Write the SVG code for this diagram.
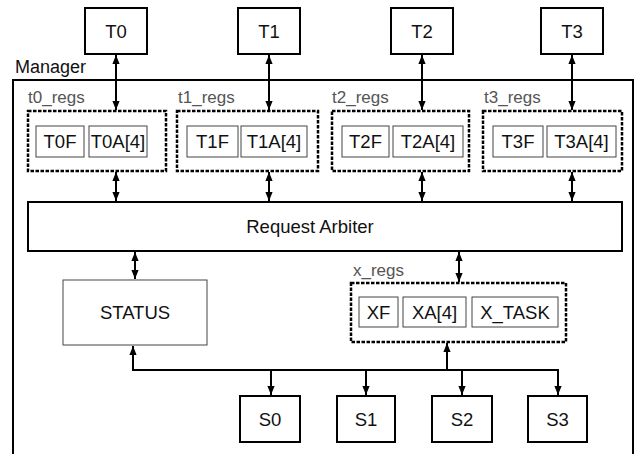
<svg xmlns="http://www.w3.org/2000/svg" width="639" height="454" viewBox="0 0 639 454">
  <style>
    text { font-family: "Liberation Sans", Arial, sans-serif; fill: #111; }
    .lbl { font-size: 18.5px; text-anchor: middle; }
    .grp { font-size: 17px; fill: #555; }
    .thick { fill: #fff; stroke: #000; stroke-width: 2; }
    .thin { fill: #fff; stroke: #444; stroke-width: 1; }
    .regs { fill: #fff; stroke: #000; stroke-width: 2.5; stroke-dasharray: 3.5 1.5; }
    .wire { fill: none; stroke: #000; stroke-width: 2; }
  </style>
  <defs>
    <marker id="ah" viewBox="0 0 10 8" refX="10" refY="4" markerWidth="4.5" markerHeight="3.6" orient="auto-start-reverse">
      <path d="M0,0 L10,4 L0,8 z" fill="#000"/>
    </marker>
  </defs>

  <g id="manager">
    <rect class="thick" x="13" y="80" width="620" height="400"/>
    <text x="15" y="73" style="font-size:18px">Manager</text>
  </g>

  <g id="T0"><rect class="thick" x="85" y="8" width="62" height="46"/><text class="lbl" x="116" y="38">T0</text></g>
  <g id="T1"><rect class="thick" x="238" y="8" width="62" height="46"/><text class="lbl" x="269" y="38">T1</text></g>
  <g id="T2"><rect class="thick" x="391" y="8" width="62" height="46"/><text class="lbl" x="422" y="38">T2</text></g>
  <g id="T3"><rect class="thick" x="541" y="8" width="62" height="46"/><text class="lbl" x="572" y="38">T3</text></g>

  <g id="t0_regs">
    <text class="grp" x="28" y="103">t0_regs</text>
    <rect class="regs" x="28" y="111" width="138" height="60"/>
    <rect class="thin" x="36" y="126" width="48" height="31"/><text class="lbl" x="60" y="148">T0F</text>
    <rect class="thin" x="89" y="126" width="58" height="31"/><text class="lbl" x="118" y="148">T0A[4]</text>
  </g>
  <g id="t1_regs">
    <text class="grp" x="178" y="103">t1_regs</text>
    <rect class="regs" x="177" y="111" width="141" height="60"/>
    <rect class="thin" x="187" y="126" width="51" height="31"/><text class="lbl" x="212.5" y="148">T1F</text>
    <rect class="thin" x="241" y="126" width="66" height="31"/><text class="lbl" x="274" y="148">T1A[4]</text>
  </g>
  <g id="t2_regs">
    <text class="grp" x="332" y="103">t2_regs</text>
    <rect class="regs" x="332" y="111" width="137" height="60"/>
    <rect class="thin" x="342" y="126" width="47" height="31"/><text class="lbl" x="365.5" y="148">T2F</text>
    <rect class="thin" x="393" y="126" width="70" height="31"/><text class="lbl" x="428" y="148">T2A[4]</text>
  </g>
  <g id="t3_regs">
    <text class="grp" x="484" y="103">t3_regs</text>
    <rect class="regs" x="483" y="111" width="139" height="60"/>
    <rect class="thin" x="493" y="126" width="50" height="31"/><text class="lbl" x="518" y="148">T3F</text>
    <rect class="thin" x="547" y="126" width="69" height="31"/><text class="lbl" x="581.5" y="148">T3A[4]</text>
  </g>

  <g id="arbiter">
    <rect class="thick" x="28" y="202" width="594" height="49"/>
    <text class="lbl" x="310" y="233">Request Arbiter</text>
  </g>

  <g id="status">
    <rect class="thin" x="63" y="280" width="144" height="65"/>
    <text class="lbl" x="135" y="319">STATUS</text>
  </g>

  <g id="x_regs">
    <text class="grp" x="353" y="276">x_regs</text>
    <rect class="regs" x="351" y="283" width="215" height="59"/>
    <rect class="thin" x="359" y="297" width="39" height="30"/><text class="lbl" x="378.5" y="319">XF</text>
    <rect class="thin" x="403" y="297" width="63" height="30"/><text class="lbl" x="434.5" y="319">XA[4]</text>
    <rect class="thin" x="472" y="297" width="86" height="30"/><text class="lbl" x="515" y="319">X_TASK</text>
  </g>

  <g id="S0"><rect class="thick" x="240" y="396" width="60" height="46"/><text class="lbl" x="270" y="426">S0</text></g>
  <g id="S1"><rect class="thick" x="337" y="396" width="58" height="46"/><text class="lbl" x="366" y="426">S1</text></g>
  <g id="S2"><rect class="thick" x="432" y="396" width="60" height="46"/><text class="lbl" x="462" y="426">S2</text></g>
  <g id="S3"><rect class="thick" x="528" y="396" width="59" height="46"/><text class="lbl" x="557.5" y="426">S3</text></g>

  <g id="connectors" class="wire">
    <!-- masters to their register banks -->
    <line x1="116" y1="55" x2="116" y2="110" marker-start="url(#ah)" marker-end="url(#ah)"/>
    <line x1="269" y1="55" x2="269" y2="110" marker-start="url(#ah)" marker-end="url(#ah)"/>
    <line x1="422" y1="55" x2="422" y2="110" marker-start="url(#ah)" marker-end="url(#ah)"/>
    <line x1="572" y1="55" x2="572" y2="110" marker-start="url(#ah)" marker-end="url(#ah)"/>
    <!-- register banks to arbiter -->
    <line x1="116" y1="172" x2="116" y2="201" marker-start="url(#ah)" marker-end="url(#ah)"/>
    <line x1="269" y1="172" x2="269" y2="201" marker-start="url(#ah)" marker-end="url(#ah)"/>
    <line x1="422" y1="172" x2="422" y2="201" marker-start="url(#ah)" marker-end="url(#ah)"/>
    <line x1="572" y1="172" x2="572" y2="201" marker-start="url(#ah)" marker-end="url(#ah)"/>
    <!-- arbiter to status and x_regs -->
    <line x1="135" y1="252" x2="135" y2="279" marker-start="url(#ah)" marker-end="url(#ah)"/>
    <line x1="459" y1="252" x2="459" y2="282" marker-start="url(#ah)" marker-end="url(#ah)"/>
    <!-- slave bus -->
    <polyline points="133,346 133,370 558,370"/>
    <line x1="133" y1="370" x2="133" y2="346" marker-end="url(#ah)"/>
    <line x1="447" y1="370" x2="447" y2="343" marker-end="url(#ah)"/>
    <line x1="271" y1="370" x2="271" y2="395" marker-end="url(#ah)"/>
    <line x1="366" y1="370" x2="366" y2="395" marker-end="url(#ah)"/>
    <line x1="462" y1="370" x2="462" y2="395" marker-end="url(#ah)"/>
    <line x1="558" y1="369" x2="558" y2="395" marker-end="url(#ah)"/>
  </g>
</svg>
